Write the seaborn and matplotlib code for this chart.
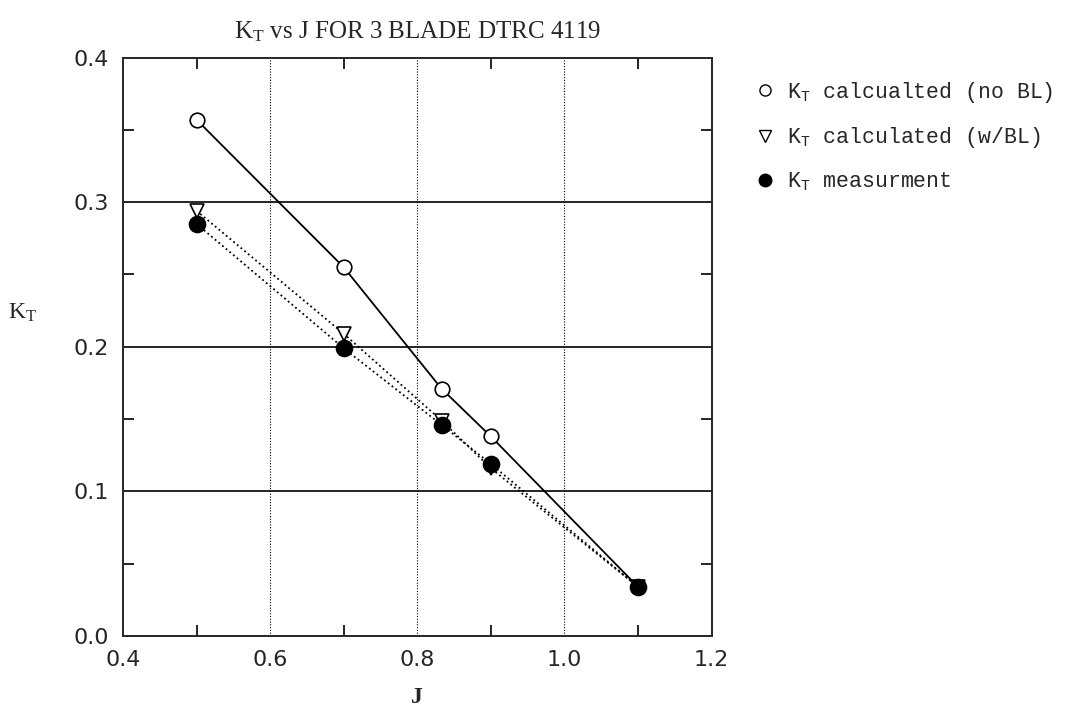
import numpy as np
import pandas as pd
import matplotlib
matplotlib.use('Agg')
import matplotlib.pyplot as plt
from matplotlib.lines import Line2D
from matplotlib.ticker import MultipleLocator, FormatStrFormatter
import seaborn as sns

# values
J = [0.5, 0.7, 0.833, 0.9, 1.1]
kt_no_bl = [0.357, 0.255, 0.171, 0.138, 0.034]
kt_bl = [0.294, 0.209, 0.149, 0.116, 0.034]
kt_meas = [0.285, 0.199, 0.146, 0.119, 0.034]

series = ['no_bl', 'bl', 'meas']
labels = [r'$\mathregular{K_T}$ calcualted (no BL)',
          r'$\mathregular{K_T}$ calculated (w/BL)',
          r'$\mathregular{K_T}$ measurment']

df = pd.DataFrame({
    'J': J * 3,
    'KT': kt_no_bl + kt_bl + kt_meas,
    'series': [s for s in series for _ in J],
})

sns.set_style('ticks')
plt.rcParams['font.family'] = ['Liberation Mono', 'DejaVu Sans']

fig = plt.figure(figsize=(10.85, 7.11), dpi=100)
ax = fig.add_axes([0.1134, 0.1055, 0.5424, 0.8135])

styles = {
    'no_bl': dict(ls='-', marker='o', mfc='white', ms=10.5),
    'bl': dict(ls=':', marker='v', mfc='white', ms=10),
    'meas': dict(ls=':', marker='o', mfc='black', ms=11.5),
}
for s in ['no_bl', 'bl', 'meas']:
    st = styles[s]
    sub = df[df['series'] == s]
    sns.lineplot(data=sub, x='J', y='KT', ax=ax, color='black', lw=1.3,
                 linestyle=st['ls'], marker=st['marker'], markersize=st['ms'],
                 markerfacecolor=st['mfc'], markeredgecolor='black',
                 markeredgewidth=1.2, legend=False, zorder=3)

ax.set_xlim(0.4, 1.2)
ax.set_ylim(0.0, 0.4)
ax.xaxis.set_major_locator(MultipleLocator(0.2))
ax.xaxis.set_minor_locator(MultipleLocator(0.1))
ax.yaxis.set_major_locator(MultipleLocator(0.1))
ax.yaxis.set_minor_locator(MultipleLocator(0.05))
ax.xaxis.set_major_formatter(FormatStrFormatter('%.1f'))
ax.yaxis.set_major_formatter(FormatStrFormatter('%.1f'))
ax.tick_params(which='both', direction='in', top=True, right=True,
               color='black', width=1.2)
ax.tick_params(which='major', length=0, pad=10)
ax.tick_params(which='minor', length=8)
for lab in ax.get_xticklabels() + ax.get_yticklabels():
    lab.set_family('DejaVu Sans')
    lab.set_fontsize(16)

for v in [0.6, 0.8, 1.0]:
    ax.axvline(v, color='black', lw=0.8, ls=(0, (1, 1.5)), zorder=1)
for v in [0.1, 0.2, 0.3]:
    ax.axhline(v, color='black', lw=1.2, zorder=1)
for sp in ax.spines.values():
    sp.set_linewidth(1.4)

ax.set_xlabel('J', family='Liberation Serif', fontsize=17, fontweight='bold', labelpad=12)
ax.set_ylabel(r'$\mathregular{K_T}$', family='Liberation Serif', fontsize=17,
              rotation=0)
ax.yaxis.set_label_coords(-0.17, 0.54)
ax.set_title(r'$\mathregular{K_T}$ vs J FOR 3 BLADE DTRC 4119', family='Liberation Serif',
             fontsize=18, pad=14)

handles = [
    Line2D([], [], ls='none', marker='o', mfc='white', mec='black', ms=8),
    Line2D([], [], ls='none', marker='v', mfc='white', mec='black', ms=8),
    Line2D([], [], ls='none', marker='o', mfc='black', mec='black', ms=9),
]
ax.legend(handles, labels, loc='upper left', bbox_to_anchor=(1.04, 0.995),
          frameon=False, fontsize=15.5, handletextpad=0.5, labelspacing=0.95,
          handlelength=1.0)

fig.savefig('out.png', dpi=100)
